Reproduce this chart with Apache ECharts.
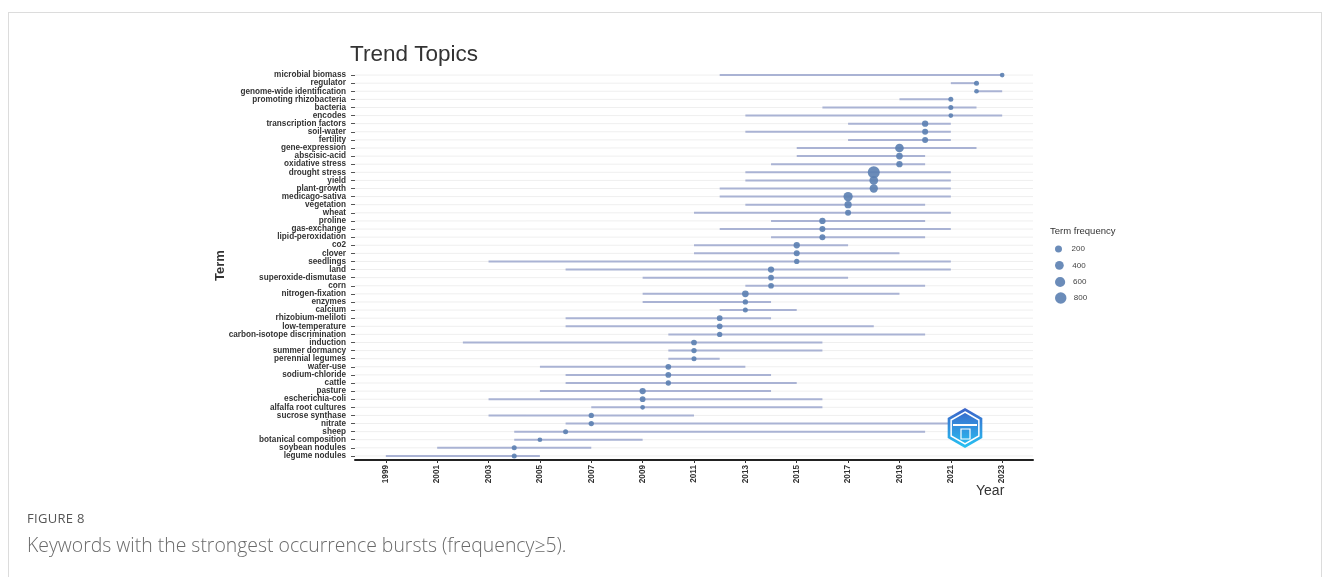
<!DOCTYPE html>
<html>
<head>
<meta charset="utf-8">
<title>Trend Topics</title>
<script src="https://cdn.jsdelivr.net/npm/echarts@6/dist/echarts.min.js"></script>
<style>
  html, body { margin: 0; padding: 0; background: #fff; }
  body { width: 1330px; height: 577px; position: relative; overflow: hidden; font-family: "Open Sans", "Liberation Sans", sans-serif; }
  #frame { position: absolute; left: 8px; top: 12px; width: 1314px; height: 640px; border: 1px solid #dcdcdc; box-sizing: border-box; }
  #chart { position: absolute; left: 0; top: 0; width: 1330px; height: 577px; }
  #fig { position: absolute; left: 27px; top: 509px; font-size: 13px; color: #555; letter-spacing: 0.3px; }
  #cap { position: absolute; left: 27px; top: 531px; font-size: 19.4px; color: #6a6a6a; font-weight: 300; }
</style>
</head>
<body>
<div id="frame"></div>
<div id="chart"></div>
<div id="fig">FIGURE 8</div>
<div id="cap">Keywords with the strongest occurrence bursts (frequency≥5).</div>
<script>
// Terms listed top to bottom
const terms = [
  'microbial biomass', 'regulator', 'genome-wide identification', 'promoting rhizobacteria',
  'bacteria', 'encodes', 'transcription factors', 'soil-water', 'fertility', 'gene-expression',
  'abscisic-acid', 'oxidative stress', 'drought stress', 'yield', 'plant-growth', 'medicago-sativa',
  'vegetation', 'wheat', 'proline', 'gas-exchange', 'lipid-peroxidation', 'co2', 'clover',
  'seedlings', 'land', 'superoxide-dismutase', 'corn', 'nitrogen-fixation', 'enzymes', 'calcium',
  'rhizobium-meliloti', 'low-temperature', 'carbon-isotope discrimination', 'induction',
  'summer dormancy', 'perennial legumes', 'water-use', 'sodium-chloride', 'cattle', 'pasture',
  'escherichia-coli', 'alfalfa root cultures', 'sucrose synthase', 'nitrate', 'sheep',
  'botanical composition', 'soybean nodules', 'legume nodules'
];
// First year of the term's span
const startYear = [
  2012, 2021, 2022, 2019, 2016, 2013, 2017, 2013, 2017, 2015,
  2015, 2014, 2013, 2013, 2012, 2012, 2013, 2011, 2014, 2012,
  2014, 2011, 2011, 2003, 2006, 2009, 2013, 2009, 2009, 2012,
  2006, 2006, 2010, 2002, 2010, 2010, 2005, 2006, 2006, 2005,
  2003, 2007, 2003, 2006, 2004, 2004, 2001, 1999
];
// Last year of the term's span
const endYear = [
  2023, 2022, 2023, 2021, 2022, 2023, 2021, 2021, 2021, 2022,
  2020, 2020, 2021, 2021, 2021, 2021, 2020, 2021, 2020, 2021,
  2020, 2017, 2019, 2021, 2021, 2017, 2020, 2019, 2014, 2015,
  2014, 2018, 2020, 2016, 2016, 2012, 2013, 2014, 2015, 2014,
  2016, 2016, 2011, 2021, 2020, 2009, 2007, 2005
];
// Median year of occurrence (dot position)
const peakYear = [
  2023, 2022, 2022, 2021, 2021, 2021, 2020, 2020, 2020, 2019,
  2019, 2019, 2018, 2018, 2018, 2017, 2017, 2017, 2016, 2016,
  2016, 2015, 2015, 2015, 2014, 2014, 2014, 2013, 2013, 2013,
  2012, 2012, 2012, 2011, 2011, 2011, 2010, 2010, 2010, 2009,
  2009, 2009, 2007, 2007, 2006, 2005, 2004, 2004
];
// Term frequency (dot size)
const termFreq = [
  6, 27, 6, 27, 27, 6, 133, 106, 106, 390,
  170, 133, 890, 390, 345, 470, 230, 106, 133, 106,
  106, 133, 106, 49, 133, 81, 81, 170, 49, 27,
  81, 81, 49, 81, 49, 27, 81, 81, 49, 133,
  81, 6, 49, 49, 27, 6, 27, 27
];
const yearTicks = [1999, 2001, 2003, 2005, 2007, 2009, 2011, 2013, 2015, 2017, 2019, 2021, 2023];
const legendFreq = [200, 400, 600, 800];

const DOT_COLOR = '#5b7fb1';
const SPAN_COLOR = '#aab3d4';
const GRID_COLOR = '#efefef';
const FONT = 'Liberation Sans, Arial, sans-serif';

// Dot diameter: area grows linearly with frequency
const dotSize = f => Math.sqrt(21.3 + 0.138 * f);

const spanData = terms.map((t, i) => [startYear[i], endYear[i], t]);
const peakData = terms.map((t, i) => [peakYear[i], t, termFreq[i]]);

const chart = echarts.init(document.getElementById('chart'), null, { renderer: 'canvas' });

const labelFont = { fontFamily: FONT, fontWeight: 'bold', fontSize: 8.2, color: '#333' };

// Hexagon outline around a centre
function hexPoints(cx, cy, r) {
  const pts = [];
  for (let k = 0; k < 6; k++) {
    const a = Math.PI / 180 * (60 * k - 90);
    pts.push([cx + r * Math.cos(a), cy + r * Math.sin(a)]);
  }
  return pts;
}

const option = {
  backgroundColor: 'transparent',
  animation: false,
  title: [
    {
      text: 'Trend Topics', left: 350, top: 43, padding: 0,
      textStyle: { fontFamily: FONT, fontSize: 22.5, fontWeight: 'normal', color: '#333' }
    },
    {
      text: 'Term frequency', left: 1050, top: 226, padding: 0,
      textStyle: { fontFamily: FONT, fontSize: 9.5, fontWeight: 'normal', color: '#333' }
    }
  ],
  grid: { left: 355, right: 297, top: 71, bottom: 117, containLabel: false },
  xAxis: {
    type: 'value', min: 1997.8, max: 2024.2,
    axisLine: { show: true, lineStyle: { color: '#222', width: 2 } },
    axisTick: { show: true, length: 3, lineStyle: { color: '#333' }, customValues: yearTicks },
    axisLabel: { ...labelFont, rotate: 90, margin: 5, customValues: yearTicks, formatter: v => String(v) },
    splitLine: { show: false }
  },
  yAxis: {
    type: 'category', data: terms, inverse: true,
    name: 'Term', nameLocation: 'middle', nameRotate: 90, nameGap: 128, nameMoveOverlap: false,
    nameTextStyle: { fontFamily: FONT, fontSize: 13, fontWeight: 'bold', color: '#333' },
    axisLine: { show: false },
    axisTick: { show: true, alignWithLabel: true, length: 4, lineStyle: { color: '#555' } },
    axisLabel: { ...labelFont, interval: 0, margin: 9 },
    splitLine: { show: false }
  },
  legend: legendFreq.map((f, k) => {
    const d = dotSize(f);
    const h = Math.max(d, 10);
    return {
      data: [String(f)], left: 1055, top: 250 + k * 16 - h / 2, padding: 0,
      icon: 'circle', itemWidth: 16, itemHeight: d, itemGap: 0,
      selectedMode: false,
      textStyle: { fontFamily: FONT, fontSize: 8, color: '#444' }
    };
  }),
  series: [
    {
      type: 'custom',
      name: 'span',
      data: spanData,
      encode: { x: [0, 1], y: 2 },
      renderItem: function (params, api) {
        const cs = params.coordSys;
        const a = api.coord([api.value(0), api.value(2)]);
        const b = api.coord([api.value(1), api.value(2)]);
        return {
          type: 'group',
          children: [
            { type: 'line', silent: true, shape: { x1: cs.x, y1: a[1], x2: cs.x + cs.width, y2: a[1] }, style: { stroke: GRID_COLOR, lineWidth: 1 } },
            { type: 'line', shape: { x1: a[0], y1: a[1], x2: b[0], y2: b[1] }, style: { stroke: SPAN_COLOR, lineWidth: 2 } }
          ]
        };
      },
      z: 2
    },
    {
      type: 'scatter',
      name: 'Term frequency',
      data: peakData,
      symbol: 'circle',
      symbolSize: v => dotSize(v[2]),
      itemStyle: { color: DOT_COLOR, opacity: 0.9 },
      z: 3
    },
    ...legendFreq.map(f => ({
      type: 'scatter', name: String(f), data: [],
      itemStyle: { color: DOT_COLOR, opacity: 0.9 }
    }))
  ],
  graphic: [
    {
      type: 'text', left: 976, top: 484,
      style: { text: 'Year', fontFamily: FONT, fontSize: 14, fill: '#333' }
    },
    {
      type: 'polygon', z: 10,
      shape: { points: hexPoints(965, 428, 20) },
      style: {
        fill: new echarts.graphic.LinearGradient(0, 0, 0, 1, [
          { offset: 0, color: '#3c63c9' }, { offset: 1, color: '#27c3f3' }
        ])
      }
    },
    {
      type: 'polygon', z: 11,
      shape: { points: hexPoints(965, 428, 16) },
      style: { fill: 'none', stroke: '#ffffff', lineWidth: 1.5 }
    },
    {
      type: 'rect', z: 11,
      shape: { x: 953, y: 424, width: 24, height: 2 },
      style: { fill: '#ffffff' }
    },
    {
      type: 'rect', z: 11,
      shape: { x: 961, y: 429, width: 9, height: 10 },
      style: { fill: 'none', stroke: '#ffffff', lineWidth: 1.2 }
    }
  ]
};

chart.setOption(option);
</script>
</body>
</html>
